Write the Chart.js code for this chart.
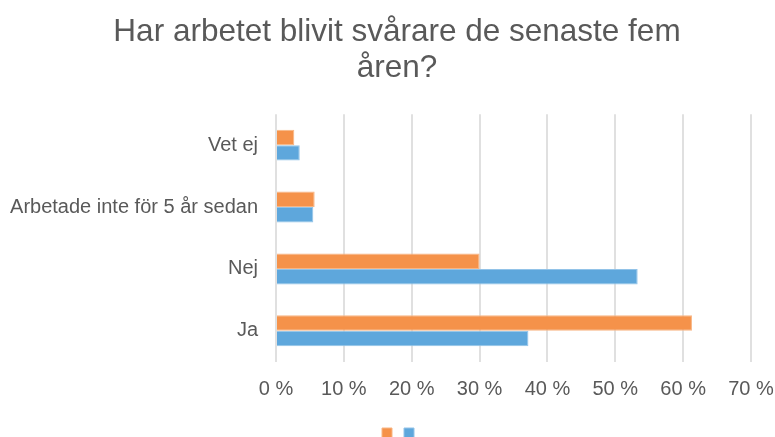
<!DOCTYPE html>
<html>
<head>
<meta charset="utf-8">
<script src="https://cdn.jsdelivr.net/npm/chart.js@4"></script>
<style>
  html, body { margin: 0; padding: 0; background: #fff; }
  #wrap { width: 775px; height: 437px; }
</style>
</head>
<body>
<div id="wrap"><canvas id="myChart" width="775" height="437"></canvas></div>
<script>
// svar och andelar (procent)
const categories = ["Vet ej", "Arbetade inte för 5 år sedan", "Nej", "Ja"];
const seriesNames = ["", ""];
const orangeValues = [2.7, 5.7, 30.0, 61.3];
const blueValues = [3.5, 5.5, 53.3, 37.2];
const xTicks = [0, 10, 20, 30, 40, 50, 60, 70];
const titleLines = ["Har arbetet blivit svårare de senaste fem", "åren?"];

const textColor = "#595959";
const fontFam = "'Liberation Sans', Arial, sans-serif";

const data = {
    labels: categories,
    datasets: [
        {label: seriesNames[0], data: orangeValues, backgroundColor: "#F5924A", borderColor: "#F8B583", borderWidth: 1},
        {label: seriesNames[1], data: blueValues, backgroundColor: "#5EA7DC", borderColor: "#92C3E8", borderWidth: 1}
    ]
};

// låt y-etiketterna gå ut till vänster utan att klippas, flytta legenden lite
const layoutFix = {
    id: "layoutFix",
    afterLayout(chart) {
        chart.scales.y.left = 0;
        chart.legend.left += 4;
        chart.legend.right += 4;
    }
};

const config = {
    type: "bar",
    data: data,
    plugins: [layoutFix],
    options: {
        indexAxis: "y",
        responsive: false,
        animation: false,
        layout: {padding: {left: 19, right: 0, top: 0, bottom: -12}},
        datasets: {bar: {categoryPercentage: 0.5, barPercentage: 1.0}},
        plugins: {
            title: {
                display: true,
                text: titleLines,
                color: textColor,
                font: {family: fontFam, size: 31.5, weight: "normal", lineHeight: 1.13},
                padding: {top: 15, bottom: 28}
            },
            legend: {
                position: "bottom",
                title: {display: true, text: " ", font: {size: 1}, padding: {top: 0, bottom: 2}},
                labels: {
                    boxWidth: 10, boxHeight: 10, padding: 6,
                    font: {size: 12, family: fontFam},
                    color: textColor
                }
            },
            tooltip: {enabled: false}
        },
        scales: {
            x: {
                min: 0, max: 70,
                afterBuildTicks: (axis) => { axis.ticks = xTicks.map(v => ({value: v})); },
                afterFit: (axis) => { axis.paddingLeft = 0; axis.paddingRight = 24; },
                grid: {color: "#e0e0e0", lineWidth: 2, drawTicks: false},
                border: {display: false},
                ticks: {
                    color: textColor, padding: 16,
                    font: {family: fontFam, size: 20},
                    callback: (v) => v + " %"
                }
            },
            y: {
                grid: {display: false},
                border: {display: false},
                afterFit: (axis) => { axis.width = 257; },
                ticks: {
                    color: textColor, padding: 10,
                    font: {family: fontFam, size: 20}
                }
            }
        }
    }
};

window.onload = (function () {
    const myChart = new Chart(document.getElementById("myChart"), config);
});
</script>
</body>
</html>
